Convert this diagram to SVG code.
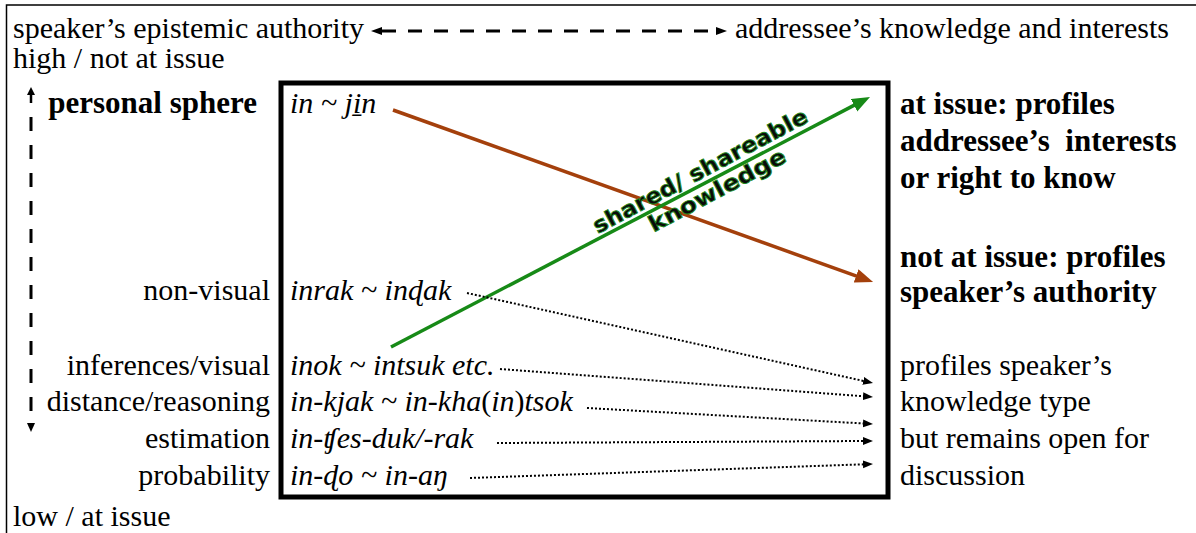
<svg xmlns="http://www.w3.org/2000/svg" width="1196" height="533" viewBox="0 0 1196 533" font-family="Liberation Serif">
<style>
.dot{fill:none;stroke:#000;stroke-width:2;stroke-dasharray:2 2}
.dash{fill:none;stroke:#000;stroke-width:3}
.head{fill:#000}
</style>
<defs>
<marker id="ab" markerUnits="userSpaceOnUse" markerWidth="20" markerHeight="16" viewBox="0 0 20 16" refX="2" refY="7" orient="auto"><path d="M0,0 L18,7 L0,14 Z" fill="#a4400c"/></marker>
<marker id="ag" markerUnits="userSpaceOnUse" markerWidth="20" markerHeight="16" viewBox="0 0 20 16" refX="2" refY="7" orient="auto"><path d="M0,0 L18,7 L0,14 Z" fill="#178a17"/></marker>
<marker id="ad" markerUnits="userSpaceOnUse" markerWidth="12" markerHeight="10" viewBox="0 0 12 10" refX="1" refY="4" orient="auto"><path d="M0,0 L10,4 L0,8 Z" fill="#000"/></marker>
</defs>
<rect width="1196" height="533" fill="#fff"/>
<path d="M6.5,533 V5 H1196" fill="none" stroke="#000" stroke-width="1.5"/>

<g id="top-axis">
<text style="font-family:'Liberation Serif',serif;font-size:30px" x="13" y="38">speaker’s epistemic authority</text>
<text style="font-family:'Liberation Serif',serif;font-size:30px" x="735" y="38">addressee’s knowledge and interests</text>
</g>
<g id="high"><text style="font-family:'Liberation Serif',serif;font-size:30px" x="13" y="68">high / not at issue</text></g>
<g id="low"><text style="font-family:'Liberation Serif',serif;font-size:30px" x="13" y="526">low / at issue</text></g>

<g id="left-labels">
<text style="font-family:'Liberation Serif',serif;font-size:31px;font-weight:bold;text-anchor:end" x="257" y="113">personal sphere</text>
<text style="font-family:'Liberation Serif',serif;font-size:30px;text-anchor:end" x="270" y="300">non-visual</text>
<text style="font-family:'Liberation Serif',serif;font-size:30px;text-anchor:end" x="270" y="375">inferences/visual</text>
<text style="font-family:'Liberation Serif',serif;font-size:30px;text-anchor:end" x="270" y="411">distance/reasoning</text>
<text style="font-family:'Liberation Serif',serif;font-size:30px;text-anchor:end" x="270" y="448">estimation</text>
<text style="font-family:'Liberation Serif',serif;font-size:30px;text-anchor:end" x="270" y="485">probability</text>
</g>

<g id="forms">
<text style="font-family:'Liberation Serif',serif;font-size:30px;font-style:italic" x="290" y="113">in ~ ji̱n</text>
<text style="font-family:'Liberation Serif',serif;font-size:30px;font-style:italic" x="290" y="300">inrak ~ inɖak</text>
<text style="font-family:'Liberation Serif',serif;font-size:30px;font-style:italic" x="290" y="375">inok ~ intsuk etc.</text>
<text style="font-family:'Liberation Serif',serif;font-size:30px;font-style:italic" x="290" y="411">in-kjak ~ in-kha<tspan style="font-style:normal">(</tspan>in<tspan style="font-style:normal">)</tspan>tsok</text>
<text style="font-family:'Liberation Serif',serif;font-size:30px;font-style:italic" x="290" y="448">in-ʧes-duk/-rak</text>
<text style="font-family:'Liberation Serif',serif;font-size:30px;font-style:italic" x="290" y="485">in-ɖo ~ in-aŋ</text>
</g>

<g id="at-issue">
<text style="font-family:'Liberation Serif',serif;font-size:31px;font-weight:bold" x="900" y="114">at issue: profiles</text>
<text style="font-family:'Liberation Serif',serif;font-size:31px;font-weight:bold;white-space:pre" x="900" y="151">addressee’s  interests</text>
<text style="font-family:'Liberation Serif',serif;font-size:31px;font-weight:bold" x="900" y="188">or right to know</text>
</g>
<g id="not-at-issue">
<text style="font-family:'Liberation Serif',serif;font-size:31px;font-weight:bold" x="900" y="267">not at issue: profiles</text>
<text style="font-family:'Liberation Serif',serif;font-size:31px;font-weight:bold" x="900" y="302">speaker’s authority</text>
</g>
<g id="knowledge-type">
<text style="font-family:'Liberation Serif',serif;font-size:30px" x="900" y="375">profiles speaker’s</text>
<text style="font-family:'Liberation Serif',serif;font-size:30px" x="900" y="411">knowledge type</text>
<text style="font-family:'Liberation Serif',serif;font-size:30px" x="900" y="448">but remains open for</text>
<text style="font-family:'Liberation Serif',serif;font-size:30px" x="900" y="485">discussion</text>
</g>

<g id="box"><rect x="281" y="83" width="607" height="414" fill="none" stroke="#000" stroke-width="5"/></g>

<g id="connectors">
<line class="dash" x1="382" y1="31" x2="716" y2="31" stroke-dasharray="14 12"/>
<path class="head" d="M371,31 L382,27 L382,35 Z"/>
<path class="head" d="M727,31 L716,27 L716,35 Z"/>
<line x1="31" y1="94" x2="31" y2="103" stroke="#000" stroke-width="2.5"/>
<path class="head" d="M31,87 L27,95 L35,95 Z"/>
<line class="dash" x1="31" y1="117" x2="31" y2="413" stroke-dasharray="14 14"/>
<path class="head" d="M27,423 L35,423 L31,432 Z"/>
<line x1="393" y1="110" x2="858" y2="276.6" stroke="#a4400c" stroke-width="3.5" marker-end="url(#ab)"/>
<line x1="391" y1="347" x2="855.8" y2="104.4" stroke="#178a17" stroke-width="3.5" marker-end="url(#ag)"/>
<line class="dot" x1="467" y1="293" x2="864.2" y2="381.1" marker-end="url(#ad)"/>
<line class="dot" x1="500" y1="369" x2="864" y2="396.3" marker-end="url(#ad)"/>
<line class="dot" x1="587" y1="408" x2="864" y2="423.5" marker-end="url(#ad)"/>
<line class="dot" x1="497" y1="443" x2="864" y2="441" marker-end="url(#ad)"/>
<line class="dot" x1="470" y1="478" x2="864" y2="464.3" marker-end="url(#ad)"/>
</g>

<g id="shared-label" transform="translate(706,182) rotate(-28)">
<text style="font-family:'DejaVu Sans',sans-serif;font-size:22px;font-weight:bold;fill:#0a0a0a;stroke:#1f8a1f;stroke-width:0.9" x="0" y="-5" text-anchor="middle" textLength="240" lengthAdjust="spacingAndGlyphs">shared/ shareable</text>
<text style="font-family:'DejaVu Sans',sans-serif;font-size:22px;font-weight:bold;fill:#0a0a0a;stroke:#1f8a1f;stroke-width:0.9" x="6" y="20" text-anchor="middle" textLength="152" lengthAdjust="spacingAndGlyphs">knowledge</text>
</g>
</svg>
